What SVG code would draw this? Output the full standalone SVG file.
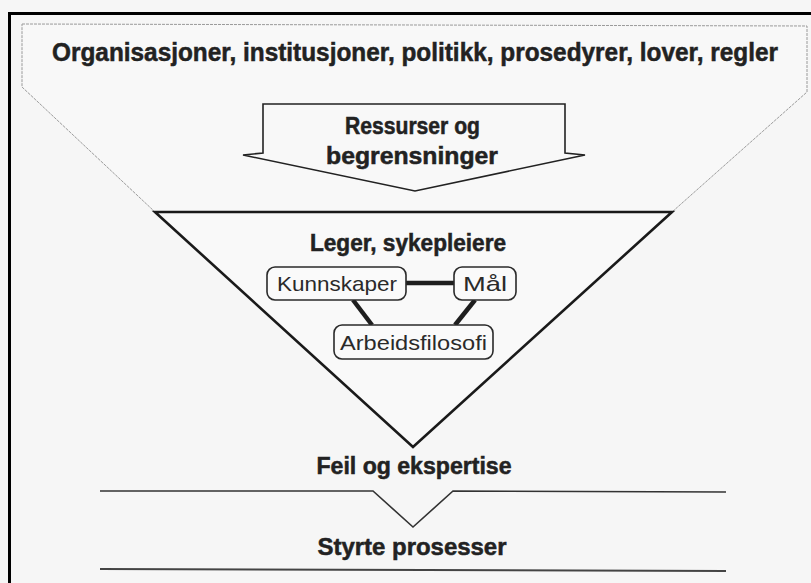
<svg xmlns="http://www.w3.org/2000/svg" width="811" height="583" viewBox="0 0 811 583">
<style>
.bold{font-family:"Liberation Sans",Arial,sans-serif;font-weight:bold;fill:#222;stroke:#222;stroke-width:0.5;text-anchor:middle}
.reg{font-family:"Liberation Sans",Arial,sans-serif;fill:#2a2a2a;text-anchor:middle;font-size:21px}
.box{fill:#fafafa;stroke:#2a2a2a;stroke-width:1.6}
.link{stroke:#1e1e1e;stroke-width:4.5;fill:none}
</style>
<rect x="0" y="0" width="811" height="583" fill="#f6f6f6"/>
<path d="M9.5 583 V13.5 H811" fill="none" stroke="#000" stroke-width="3"/>
<g id="funnel">
<path d="M22 24 L807 26 L807 92 L672 212 L155 212 L22 87 Z" fill="#f8f8f8" stroke="#9a9a9a" stroke-width="1" stroke-dasharray="3 1"/>
<text class="bold" x="415" y="61" font-size="25" textLength="726" lengthAdjust="spacingAndGlyphs">Organisasjoner, institusjoner, politikk, prosedyrer, lover, regler</text>
</g>
<g id="arrow">
<path d="M263 104 L565 104 L565 153 L585 155 L415 191 L243 155 L263 153 Z" fill="#f8f8f8" stroke="#222" stroke-width="1.6" stroke-linejoin="miter"/>
<text class="bold" x="412.5" y="134" font-size="23" textLength="135" lengthAdjust="spacingAndGlyphs">Ressurser og</text>
<text class="bold" x="412" y="164" font-size="23" textLength="172" lengthAdjust="spacingAndGlyphs">begrensninger</text>
</g>
<g id="triangle">
<path d="M155 212 L672 212 L413 447 Z" fill="#f9f9f9" stroke="#1a1a1a" stroke-width="2.6" stroke-linejoin="miter"/>
<text class="bold" x="408" y="251" font-size="23" textLength="196" lengthAdjust="spacingAndGlyphs">Leger, sykepleiere</text>
</g>
<g id="connectors">
<line class="link" x1="406" y1="283" x2="454" y2="283"/>
<line class="link" x1="353" y1="300" x2="372" y2="325"/>
<line class="link" x1="475" y1="300" x2="455" y2="325"/>
</g>
<g id="kunnskaper">
<rect class="box" x="267" y="267" width="139" height="33" rx="8"/>
<text class="reg" x="337" y="291" textLength="120" lengthAdjust="spacingAndGlyphs">Kunnskaper</text>
</g>
<g id="maal">
<rect class="box" x="454" y="267" width="62" height="33" rx="8"/>
<text class="reg" x="485" y="291" textLength="44" lengthAdjust="spacingAndGlyphs">Mål</text>
</g>
<g id="arbeidsfilosofi">
<rect class="box" x="334" y="325" width="159" height="34" rx="8"/>
<text class="reg" x="413.5" y="350" textLength="147" lengthAdjust="spacingAndGlyphs">Arbeidsfilosofi</text>
</g>
<g id="feil">
<text class="bold" x="414" y="474" font-size="23" textLength="195" lengthAdjust="spacingAndGlyphs">Feil og ekspertise</text>
<path d="M100 491 L373 491 L413 527 L453 491 L726 492" fill="none" stroke="#333" stroke-width="1.6"/>
</g>
<g id="styrte">
<text class="bold" x="412" y="555" font-size="23" textLength="189" lengthAdjust="spacingAndGlyphs">Styrte prosesser</text>
<path d="M100 569 L726 571" fill="none" stroke="#444" stroke-width="2"/>
</g>
</svg>
